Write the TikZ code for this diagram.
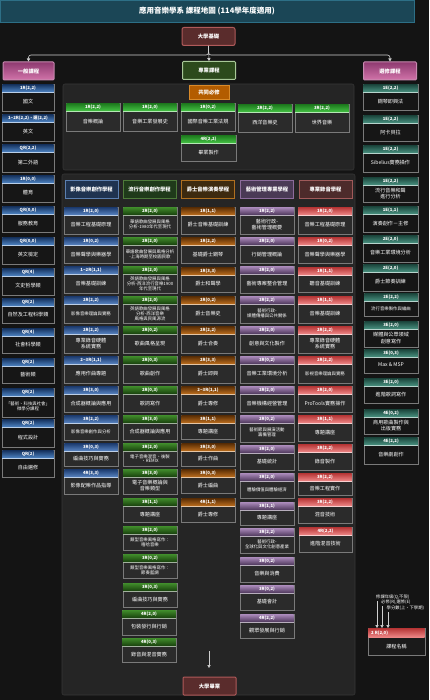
\documentclass[tikz,border=0pt]{standalone}
\usepackage{fontspec}
\setmainfont{Noto Sans CJK TC}
\usetikzlibrary{arrows.meta}
\definecolor{bgc}{HTML}{141414}
\definecolor{titlec}{HTML}{1b4656}
\definecolor{titleline}{HTML}{2d6f86}
\definecolor{panelc}{HTML}{252525}
\definecolor{panelline}{HTML}{363636}
\definecolor{linegrey}{HTML}{7a7a7a}
\definecolor{arrc}{HTML}{cfcfcf}
\definecolor{basec}{HTML}{5a2c2c}\definecolor{baseline}{HTML}{b05a5a}
\definecolor{pinka}{HTML}{8e3a70}\definecolor{pinkb}{HTML}{d274aa}\definecolor{pinkline}{HTML}{c88ab0}
\definecolor{profc}{HTML}{2c4a1c}\definecolor{profline}{HTML}{a8c898}
\definecolor{commc}{HTML}{b35c00}\definecolor{commline}{HTML}{d98a2a}
% schemes: a = top, b = bottom, body
\definecolor{gba}{HTML}{16335f}\definecolor{gbb}{HTML}{4f86c6}\definecolor{gbbody}{HTML}{161616}
\definecolor{tea}{HTML}{1b463d}\definecolor{teb}{HTML}{4a9482}\definecolor{tebody}{HTML}{161616}
\definecolor{cga}{HTML}{1e7a1e}\definecolor{cgb}{HTML}{45c545}\definecolor{cgbody}{HTML}{2b2b2b}
\definecolor{bua}{HTML}{1d3c70}\definecolor{bub}{HTML}{5a86c4}\definecolor{bubody}{HTML}{2b2b2b}
\definecolor{gra}{HTML}{3f8a2a}\definecolor{grb}{HTML}{173d0c}\definecolor{grbody}{HTML}{2b2b2b}
\definecolor{ora}{HTML}{5a2e05}\definecolor{orb}{HTML}{c0701e}\definecolor{orbody}{HTML}{2b2b2b}
\definecolor{pua}{HTML}{a888b8}\definecolor{pub}{HTML}{4a3458}\definecolor{pubody}{HTML}{2b2b2b}
\definecolor{rea}{HTML}{b83838}\definecolor{reb}{HTML}{f08a8a}\definecolor{rebody}{HTML}{2b2b2b}
\definecolor{lgbody}{HTML}{1a1a1a}
\definecolor{h1f}{HTML}{1f3350}\definecolor{h1l}{HTML}{5b7fb0}
\definecolor{h2f}{HTML}{1f3a1a}\definecolor{h2l}{HTML}{4e7a3a}
\definecolor{h3f}{HTML}{3d2a0f}\definecolor{h3l}{HTML}{b07020}
\definecolor{h4f}{HTML}{4a3a55}\definecolor{h4l}{HTML}{8c6c9c}
\definecolor{h5f}{HTML}{4d2b2b}\definecolor{h5l}{HTML}{a05a5a}
\tikzset{
  hdrtxt/.style={text=white,font=\fontsize{4.3}{4.7}\selectfont\bfseries,inner sep=0pt},
  bodytxt/.style={text=white,font=\fontsize{5.1}{6.5}\selectfont,align=center,inner sep=0pt},
  tinytxt/.style={text=white,font=\fontsize{4.4}{4.9}\selectfont,align=center,inner sep=0pt},
  arr/.style={draw=arrc,line width=0.6pt,-{Triangle[width=3.2pt,length=3pt]}},
  colhead/.style={minimum width=53pt,minimum height=18pt,inner sep=0pt,line width=0.8pt,
    text=white,font=\fontsize{5.3}{6}\selectfont\bfseries},
  topbox/.style={minimum width=53pt,minimum height=18pt,inner sep=0pt,line width=1pt,
    rounded corners=2pt,text=white,font=\fontsize{5.3}{6}\selectfont\bfseries},
  legtxt/.style={text=white,font=\fontsize{4.3}{4.8}\selectfont,inner sep=0pt,anchor=west},
}
\newcommand{\mkcourse}[9][bodytxt]{%
  \filldraw[draw=linegrey,fill=#7body,line width=0.5pt] (#3,#4) rectangle (#5,#6);
  \shade[top color=#7a,bottom color=#7b] (#3+0.4,#4+0.4) rectangle (#5-0.4,#4+8.2);
  \draw[white!60!#7b,line width=0.3pt] (#3+0.4,#4+8.2) -- (#5-0.4,#4+8.2);
  \coordinate (#2top) at ({(#3+#5)/2},#4);
  \node[hdrtxt] (#2h) at ({(#3+#5)/2},#4+4.3) {#8};
  \node[#1] (#2) at ({(#3+#5)/2},{(#4+8.2+#6)/2}) {#9};
}
\begin{document}
\begin{tikzpicture}[x=1pt,y=-1pt]
\useasboundingbox (0,0) rectangle (429,700);
\fill[bgc] (0,0) rectangle (429,700);
% title
\filldraw[fill=titlec,draw=titleline,line width=0.6pt] (0.3,0.3) rectangle (414,22);
\node[text=white,font=\fontsize{7.5}{8}\selectfont\bfseries,inner sep=0pt] (title) at (207,11) {應用音樂學系 課程地圖 (114學年度適用)};
% panels
\filldraw[fill=panelc,draw=panelline,line width=0.6pt,rounded corners=2pt] (63,84) rectangle (354,170);
\filldraw[fill=panelc,draw=panelline,line width=0.6pt,rounded corners=2pt] (62,174) rectangle (355,695);
% top nodes
\node[topbox,fill=basec,draw=baseline] (base) at (208.5,36.5) {大學基礎};
\node[topbox,top color=pinka,bottom color=pinkb,draw=pinkline,minimum width=51pt,rounded corners=1pt] (gen) at (28.5,71) {一般課程};
\node[topbox,fill=profc,draw=profline,rounded corners=1pt] (prof) at (209,70.5) {專業課程};
\node[topbox,top color=pinka,bottom color=pinkb,draw=pinkline,rounded corners=1pt] (elec) at (390,71) {選修課程};
\draw[arr,rounded corners=2.5pt] (base.south) -- ++(0,9) -| (gen.north);
\draw[arr,rounded corners=2.5pt] (base.south) -- ++(0,9) -| (elec.north);
\draw[arr] (base.south) -- (prof.north);
% common required
\node[minimum width=40pt,minimum height=14pt,inner sep=0pt,fill=commc,draw=commline,line width=0.8pt,
  text=white,font=\fontsize{5.3}{6}\selectfont\bfseries] (comm) at (209,92) {共同必修};
\mkcourse{K1}{66}{103}{120}{131}{cg}{1R(2,2)}{音樂概論}
\mkcourse{K2}{123}{103}{177}{131}{cg}{1R(2,0)}{音樂工業發展史}
\mkcourse{K3}{181}{103}{235}{131}{cg}{1R(0,2)}{國際音樂工業法規}
\mkcourse{K4}{238}{104}{292}{132}{cg}{2R(2,2)}{西洋音樂史}
\mkcourse{K5}{295}{104}{349}{132}{cg}{3R(2,2)}{世界音樂}
\mkcourse{K6}{181}{135}{236}{161}{cg}{4R(2,2)}{畢業製作}
% left column
\mkcourse{L1}{2}{84}{54}{111}{gb}{1R(2,2)}{國文}
\mkcourse{L2}{2}{114}{54}{141}{gb}{1\textasciitilde2R(2,2)、選(2,2)}{英文}
\mkcourse{L3}{2}{144}{54}{172}{gb}{QR(2,2)}{第二外語}
\mkcourse{L4}{2}{175}{54}{202}{gb}{1R(0,0)}{體育}
\mkcourse{L5}{2}{206}{54}{232}{gb}{QR(0,0)}{服務教育}
\mkcourse{L6}{2}{237}{54}{264}{gb}{QR(0,0)}{英文檢定}
\mkcourse{L7}{2}{268}{54}{295}{gb}{QR(4)}{文史哲學類}
\mkcourse{L8}{2}{298}{54}{323}{gb}{QR(2)}{自然及工程科學類}
\mkcourse{L9}{2}{328}{54}{353}{gb}{QR(4)}{社會科學類}
\mkcourse{L10}{2}{358}{54}{383}{gb}{QR(2)}{藝術類}
\mkcourse[tinytxt]{L11}{2}{388}{54}{417}{gb}{QR(2)}{「藝術、科技與社會」\\微學分課程}
\mkcourse{L12}{2}{419}{54}{447}{gb}{QR(2)}{程式設計}
\mkcourse{L13}{2}{450}{54}{477}{gb}{QR(2)}{自由選修}
% right column
\mkcourse{R1}{363}{84}{418}{110}{te}{1E(2,2)}{鋼琴即興法}
\mkcourse{R2}{363}{115}{418}{141}{te}{1E(2,2)}{阿卡貝拉}
\mkcourse{R3}{363}{145}{418}{172}{te}{1E(2,2)}{Sibelius實務操作}
\mkcourse{R4}{363}{177}{418}{202}{te}{1E(2,2)}{流行音樂和聲\\進行分析}
\mkcourse{R5}{363}{206}{418}{232}{te}{1E(1,1)}{演奏創作－主修}
\mkcourse{R6}{363}{235}{418}{262}{te}{2E(2,0)}{音樂工業環境分析}
\mkcourse{R7}{363}{264}{418}{291}{te}{2E(2,0)}{爵士節奏訓練}
\mkcourse[tinytxt]{R8}{364}{293}{418}{316}{te}{2E(2,2)}{流行音樂製作與編曲}
\mkcourse{R9}{364}{321}{418}{347}{te}{3E(2,0)}{媒體與公眾領域\\創意寫作}
\mkcourse{R10}{364}{349}{418}{373}{te}{3E(0,3)}{Max \& MSP}
\mkcourse{R11}{364}{378}{418}{403}{te}{3E(2,0)}{進階歌詞寫作}
\mkcourse{R12}{364}{409}{418}{434}{te}{4E(0,2)}{商用歌曲製作與\\出版實務}
\mkcourse{R13}{364}{437}{418}{464}{te}{4E(2,2)}{音樂劇創作}
% column headers
\node[colhead,fill=h1f,draw=h1l] (P1) at (91.5,189) {影像音樂創作學程};
\node[colhead,fill=h2f,draw=h2l] (P2) at (149.5,189) {流行音樂創作學程};
\node[colhead,fill=h3f,draw=h3l] (P3) at (208,189) {爵士音樂演奏學程};
\node[colhead,fill=h4f,draw=h4l] (P4) at (267,189) {藝術管理專業學程};
\node[colhead,fill=h5f,draw=h5l] (P5) at (325.5,189) {專業錄音學程};
% column 1
\mkcourse{A1}{64}{207}{118}{234}{bu}{1R(2,0)}{音樂工程基礎原理}
\mkcourse{A2}{64}{237}{118}{263}{bu}{1R(0,2)}{音樂聲學與樂器學}
\mkcourse{A3}{64}{266}{118}{293}{bu}{1\textasciitilde2R(1,1)}{音樂基礎訓練}
\mkcourse[tinytxt]{A4}{64}{296}{118}{323}{bu}{2R(2,2)}{影像音樂理論與實務}
\mkcourse{A5}{64}{326}{118}{353}{bu}{2R(2,2)}{專業錄音硬體\\系統實務}
\mkcourse{A6}{64}{356}{118}{383}{bu}{2\textasciitilde3R(1,1)}{應用作曲專題}
\mkcourse{A7}{64}{386}{118}{412}{bu}{3R(3,0)}{合成器概論與應用}
\mkcourse[tinytxt]{A8}{64}{415}{118}{440}{bu}{3R(2,2)}{影像音樂創作與分析}
\mkcourse{A9}{64}{443}{118}{466}{bu}{3R(0,3)}{編曲技巧與實務}
\mkcourse{A10}{64}{469}{118}{494}{bu}{4R(3,3)}{影像配樂作品指導}
% column 2
\mkcourse[tinytxt]{B1}{123}{207}{177}{234}{gr}{2R(2,0)}{華語歌曲發展與風格\\分析-1980年代至現代}
\mkcourse[tinytxt]{B2}{123}{237}{177}{263}{gr}{2R(2,0)}{華語歌曲發展與風格分析\\-上海時期至校園民歌}
\mkcourse[tinytxt]{B3}{123}{266}{177}{293}{gr}{2R(2,0)}{英語歌曲發展與風格\\分析-西洋流行音樂1900\\年代至現代}
\mkcourse[tinytxt]{B4}{123}{296}{177}{323}{gr}{2R(2,0)}{英語歌曲發展與風格\\分析-西洋音樂\\風格與民風源流}
\mkcourse{B5}{123}{326}{177}{353}{gr}{2R(0,2)}{歌曲風格呈現}
\mkcourse{B6}{123}{356}{177}{383}{gr}{2R(0,3)}{歌曲創作}
\mkcourse{B7}{123}{386}{177}{412}{gr}{2R(0,3)}{歌詞寫作}
\mkcourse{B8}{123}{415}{177}{440}{gr}{3R(3,0)}{合成器概論與應用}
\mkcourse[tinytxt]{B9}{123}{443}{177}{466}{gr}{3R(2,0)}{電子音樂混音、後製\\、REMIX}
\mkcourse{B10}{123}{469}{177}{494}{gr}{3R(3,0)}{電子音樂概論與\\音樂類型}
\mkcourse{B11}{123}{498}{177}{522}{gr}{3R(1,1)}{專題講座}
\mkcourse[tinytxt]{B12}{123}{526}{177}{550}{gr}{3R(2,0)}{類型音樂風格寫作：\\嘻哈音樂}
\mkcourse[tinytxt]{B13}{123}{554}{177}{578}{gr}{3R(0,2)}{類型音樂風格寫作：\\節奏藍調}
\mkcourse{B14}{123}{583}{177}{607}{gr}{3R(0,3)}{編曲技巧與實務}
\mkcourse{B15}{122}{610}{176}{635}{gr}{4R(2,0)}{包裝發行與行銷}
\mkcourse{B16}{122}{638}{176}{662}{gr}{4R(0,3)}{錄音與混音實務}
% column 3
\mkcourse{D1}{181}{207}{235}{234}{or}{1R(1,1)}{爵士音樂基礎訓練}
\mkcourse{D2}{181}{237}{235}{263}{or}{1R(2,2)}{基礎爵士鋼琴}
\mkcourse{D3}{181}{267}{235}{292}{or}{1R(3,3)}{爵士和聲學}
\mkcourse{D4}{181}{296}{235}{323}{or}{2R(0,2)}{爵士音樂史}
\mkcourse{D5}{181}{326}{235}{353}{or}{2R(2,2)}{爵士合奏}
\mkcourse{D6}{181}{356}{235}{383}{or}{2R(3,3)}{爵士即興}
\mkcourse{D7}{181}{386}{235}{412}{or}{2\textasciitilde3R(1,1)}{爵士專修}
\mkcourse{D8}{181}{415}{235}{439}{or}{3R(1,1)}{專題講座}
\mkcourse{D9}{181}{443}{235}{466}{or}{3R(3,0)}{爵士作曲}
\mkcourse{D10}{181}{469}{235}{493}{or}{3R(0,3)}{爵士編曲}
\mkcourse{D11}{181}{498}{235}{522}{or}{4R(1,1)}{爵士專修}
% column 4
\mkcourse{E1}{240}{207}{294}{234}{pu}{1R(2,2)}{藝術行政-\\藝術管理概要}
\mkcourse{E2}{240}{237}{294}{263}{pu}{2R(2,0)}{行銷管理概論}
\mkcourse{E3}{240}{266}{294}{293}{pu}{2R(2,0)}{藝術專案整合管理}
\mkcourse[tinytxt]{E4}{240}{296}{294}{323}{pu}{2R(2,2)}{藝術行政-\\媒體傳播與公共關係}
\mkcourse{E5}{240}{326}{294}{353}{pu}{2R(2,0)}{創意與文化製作}
\mkcourse{E6}{240}{356}{294}{383}{pu}{2R(0,2)}{音樂工業環境分析}
\mkcourse{E7}{240}{386}{294}{412}{pu}{2R(2,0)}{音樂機構經營管理}
\mkcourse[tinytxt]{E8}{240}{415}{294}{442}{pu}{2R(0,2)}{藝術節與展演活動\\籌備管理}
\mkcourse{E9}{240}{445}{294}{470}{pu}{3R(2,0)}{基礎統計}
\mkcourse[tinytxt]{E10}{240}{473}{294}{498}{pu}{3R(2,0)}{體驗價值與體驗經濟}
\mkcourse{E11}{240}{502}{294}{525}{pu}{3R(1,1)}{專題講座}
\mkcourse[tinytxt]{E12}{240}{528}{294}{553}{pu}{3R(2,2)}{藝術行政-\\全球化與文化創意產業}
\mkcourse{E13}{240}{557}{294}{582}{pu}{3R(0,2)}{音樂與消費}
\mkcourse{E14}{240}{585}{294}{610}{pu}{3R(0,2)}{基礎會計}
\mkcourse{E15}{240}{614}{294}{638}{pu}{4R(2,2)}{觀眾發展與行銷}
% column 5
\mkcourse{F1}{298}{207}{352}{234}{re}{1R(2,0)}{音樂工程基礎原理}
\mkcourse{F2}{298}{237}{352}{263}{re}{1R(0,2)}{音樂聲學與樂器學}
\mkcourse{F3}{298}{267}{352}{292}{re}{1R(1,1)}{聽音基礎訓練}
\mkcourse{F4}{298}{296}{352}{323}{re}{1R(1,1)}{音樂基礎訓練}
\mkcourse{F5}{298}{326}{352}{353}{re}{2R(2,2)}{專業錄音硬體\\系統實務}
\mkcourse[tinytxt]{F6}{298}{356}{352}{383}{re}{2R(2,2)}{影視音樂理論與實務}
\mkcourse{F7}{298}{386}{352}{412}{re}{2R(2,0)}{ProTools實務操作}
\mkcourse{F8}{298}{415}{352}{441}{re}{3R(1,1)}{專題講座}
\mkcourse{F9}{298}{444}{352}{470}{re}{3R(2,2)}{錄音製作}
\mkcourse{F10}{298}{473}{352}{495}{re}{3R(2,2)}{音樂工程實作}
\mkcourse{F11}{298}{498}{352}{523}{re}{3R(2,2)}{混音技術}
\mkcourse{F12}{299}{527}{352}{552}{re}{4R(2,2)}{進階混音技術}
% graduation
\coordinate (gradA) at (209,651);
\coordinate (gradB) at (209,668);
\draw[arr] (gradA) -- (gradB);
\node[topbox,fill=basec,draw=baseline,rounded corners=1pt] (grad) at (209.5,686) {大學畢業};
% legend
\filldraw[draw=linegrey,fill=lgbody,line width=0.5pt] (368,628) rectangle (425,655);
\shade[top color=rea,bottom color=reb] (368.4,628.4) rectangle (424.6,637.5);
\coordinate (lgtop) at (396,628);
\node[hdrtxt,anchor=west] (lgh) at (371,633) {2 R(2,0)};
\node[bodytxt] (lgb) at (396.5,646.5) {課程名稱};
\node[legtxt] (lt1) at (376,597) {修課年級(Q,不限)};
\node[legtxt] (lt2) at (381,602.5) {必修(R),選修(E)};
\node[legtxt] (lt3) at (386.5,608.5) {學分數(上、下學期)};
\coordinate (la1) at (377,601);
\coordinate (la2) at (382,606);
\coordinate (la3) at (388,612);
\draw[arr] (la1) -- (la1 |- lgtop);
\draw[arr] (la2) -- (la2 |- lgtop);
\draw[arr] (la3) -- (la3 |- lgtop);
\end{tikzpicture}
\end{document}
